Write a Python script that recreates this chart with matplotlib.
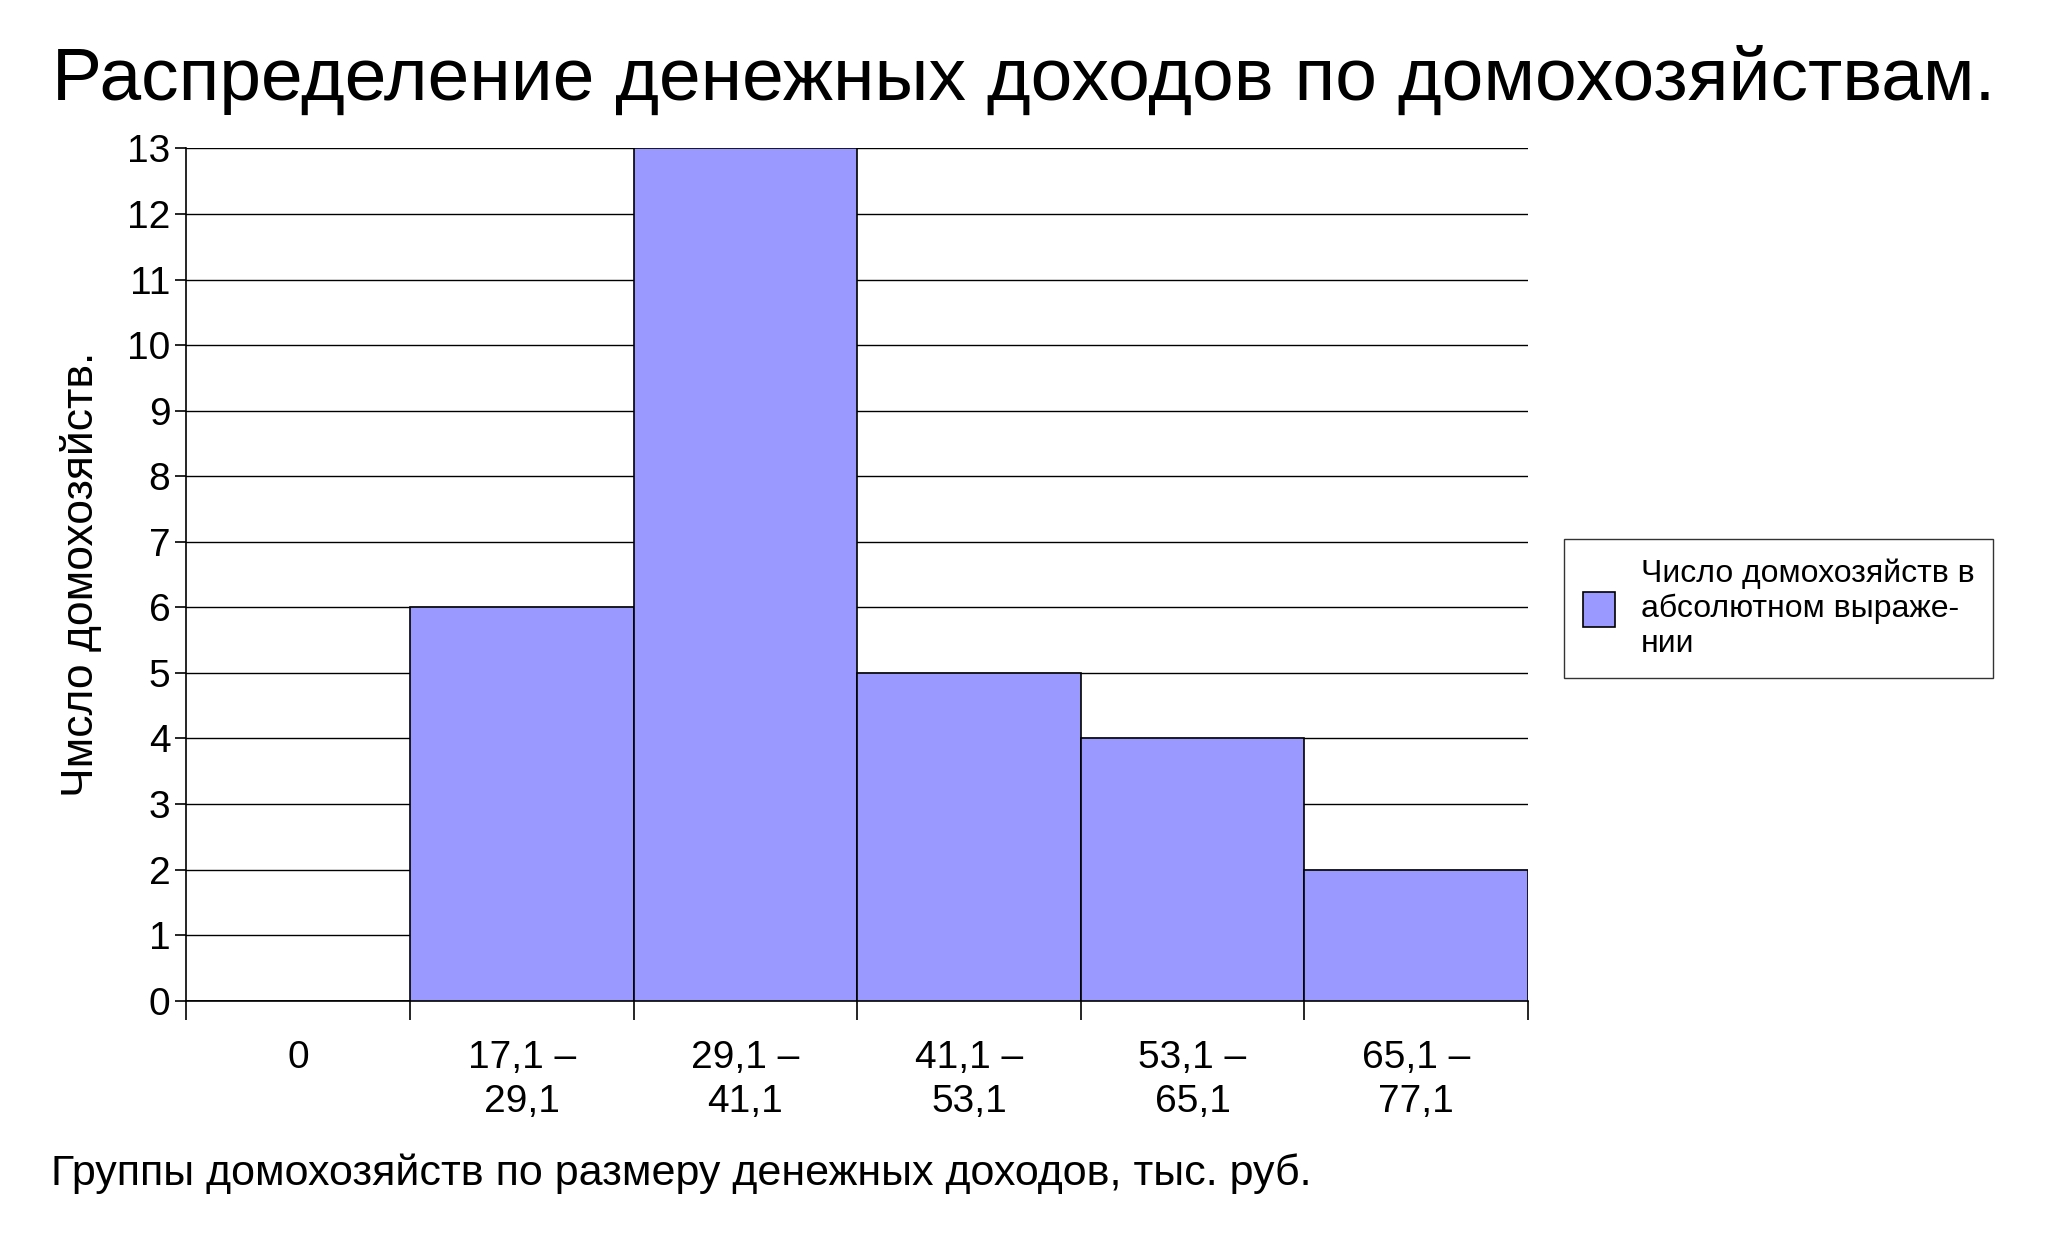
import matplotlib
matplotlib.use("Agg")
import matplotlib.pyplot as plt
import numpy as np

plt.rcParams['font.family'] = ['Liberation Sans', 'DejaVu Sans']

groups = ["0", "17,1 –\n29,1", "29,1 –\n41,1", "41,1 –\n53,1", "53,1 –\n65,1", "65,1 –\n77,1"]
counts = [0, 6, 13, 5, 4, 2]
series_name = "Число домохозяйств в\nабсолютном выраже-\nнии"

fig = plt.figure(figsize=(20.48, 12.37), dpi=100)
ax = fig.add_axes([0.091, 0.191, 0.655, 0.689])

x = np.arange(len(groups))
ax.bar(x, counts, width=1.0, color='#9999FF', edgecolor='black', linewidth=1.2,
       label=series_name, zorder=3)

ax.set_xlim(-0.5, len(groups) - 0.5)
ax.set_ylim(0, 13)
ax.set_yticks(range(0, 14))
ax.yaxis.grid(True, color='black', linewidth=1.0, zorder=0)
ax.tick_params(axis='y', labelsize=28, length=8, width=1.2, direction='out')

ax.set_xticks(np.arange(len(groups) + 1) - 0.5)
ax.set_xticklabels([])
ax.tick_params(axis='x', length=14, width=1.2, direction='out')
for xi, lab in zip(x, groups):
    ax.text(xi, -0.6, lab, ha='center', va='top', fontsize=28,
            transform=ax.transData, linespacing=1.3)

for s in ['top', 'right']:
    ax.spines[s].set_visible(False)
ax.spines['left'].set_linewidth(1.2)
ax.spines['bottom'].set_linewidth(1.2)

ax.set_ylabel("Чмсло домохозяйств.", fontsize=32, labelpad=18)
fig.text(0.025, 0.035, "Группы домохозяйств по размеру денежных доходов, тыс. руб.",
         fontsize=31, ha='left', va='bottom')
fig.text(0.5, 0.935, "Распределение денежных доходов по домохозяйствам.",
         fontsize=54, ha='center', va='center')

leg = ax.legend(loc='center left', bbox_to_anchor=(1.015, 0.46), fontsize=23,
                frameon=True, fancybox=False, edgecolor='black',
                handlelength=1.0, handleheight=1.3, borderpad=0.6)
leg.get_frame().set_linewidth(1.0)

fig.savefig("out.png", dpi=100)
